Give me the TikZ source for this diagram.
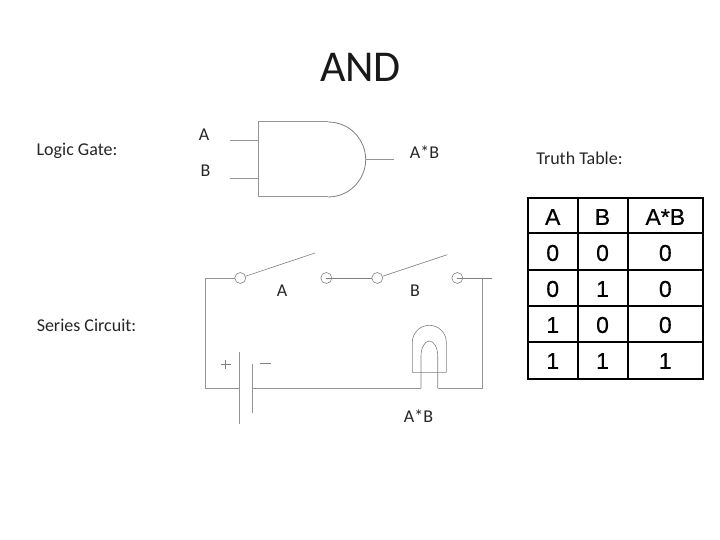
\documentclass[tikz,border=0pt]{standalone}
\usepackage{fontspec}
\setmainfont{Carlito}
\newfontfamily\tablefont[FakeBold=0.5]{Liberation Sans}
\tikzset{
  wire/.style={draw=black!42,line width=1pt},
  thinwire/.style={draw=black!50,line width=0.6pt},
  contact/.style={circle,draw=black!50,line width=0.6pt,minimum size=11pt,inner sep=0pt},
  lbl/.style={text=black!85,font=\fontsize{18}{20}\selectfont,inner sep=0pt,anchor=center},
  cell/.style={text=black,font=\tablefont\fontsize{23}{26}\selectfont,inner sep=0pt,anchor=center},
  grid line/.style={draw=black,line width=2pt},
}
\begin{document}
\begin{tikzpicture}[x=1pt,y=-1pt]
\useasboundingbox[fill=white] (0,0) rectangle (720,540);
\node[text=black!90,font=\fontsize{44}{50}\selectfont,inner sep=0pt] (title) at (360.5,67) {AND};
\node[lbl] (lgate) at (77,151) {Logic Gate:};
\node[lbl] (ina) at (204,134.5) {A};
\node[lbl] (inb) at (205.5,171) {B};
\node[lbl] (outab) at (424.5,152.5) {A*B};
\node[lbl] (ttable) at (579.5,158) {Truth Table:};
\node[lbl] (lseries) at (86.5,325) {Series Circuit:};
\node[lbl] (swa) at (282,291) {A};
\node[lbl] (swb) at (415,291) {B};
\node[lbl] (lamp) at (418.5,416) {A*B};
% AND gate
\coordinate (g1) at (258.7,140.3);
\coordinate (g2) at (258.7,178.7);
\coordinate (g3) at (365.7,159.5);
\coordinate (i1) at (230,140.3);
\coordinate (i2) at (230,178.7);
\coordinate (o1) at (394,159.5);
\draw[wire] (i1) -- (g1);
\draw[wire] (i2) -- (g2);
\draw[wire] (g3) -- (o1);
\draw[wire] (328,197) -- (258.7,197) -- (258.7,122) -- (328,122);
\draw[thinwire,line width=0.8pt] (328,122) .. controls (350,122) and (365.7,140) .. (g3) .. controls (365.7,179) and (350,197) .. (328,197);
% circuit contacts
\node[contact] (c1) at (240.3,278) {};
\node[contact] (c2) at (326.3,278) {};
\node[contact] (c3) at (377.3,278) {};
\node[contact] (c4) at (457.3,278) {};
\coordinate (arm1) at (315,253);
\coordinate (arm2) at (447.3,254.7);
\coordinate (tl) at (205,278);
\coordinate (bl) at (205,388);
\coordinate (tr) at (491.7,278);
\coordinate (tv) at (482.7,278);
\coordinate (br) at (482.7,388);
\draw[thinwire] (c1) -- (arm1);
\draw[thinwire] (c3) -- (arm2);
\draw[wire] (c1.west) -- (tl) -- (bl) -- (239,388);
\draw[thinwire] (c2.center) -- (c3);
\draw[thinwire] (c4.center) -- (tr);
\draw[wire] (tv) -- (br) -- (437.7,388);
% battery
\draw[wire] (239,351.7) -- (239,424);
\draw[wire] (252,364) -- (252,412.7);
\draw[wire] (252,388) -- (421,388);
\draw[thinwire] (221,364.3) -- (230.5,364.3) (225.7,360) -- (225.7,369);
\draw[thinwire] (260,363.7) -- (271,363.7);
% bulb
\draw[thinwire] (421,388) -- (421,356) arc[start angle=180,end angle=360,x radius=8.35,y radius=15] -- (437.7,388);
\draw[thinwire] (412.3,372.3) -- (412.3,342.3) arc[start angle=180,end angle=360,x radius=17,y radius=17] -- (446.3,372.3) -- cycle;
% truth table
\draw[grid line] (527.7,198.3) rectangle (702.7,378.7);
\foreach \xx in {577.7,628} \draw[grid line] (\xx,198.3) -- (\xx,378.7);
\foreach \yy in {233.3,270,306.3,342.3} \draw[grid line] (527.7,\yy) -- (702.7,\yy);
\node[cell] (t11) at (552.7,217) {A};
\node[cell] (t12) at (602.5,217) {B};
\node[cell] (t13) at (665.3,217) {A*B};
\node[cell] (t21) at (552.7,253) {0};
\node[cell] (t22) at (602.5,253) {0};
\node[cell] (t23) at (665.3,253) {0};
\node[cell] (t31) at (552.7,289) {0};
\node[cell] (t32) at (602.5,289) {1};
\node[cell] (t33) at (665.3,289) {0};
\node[cell] (t41) at (552.7,325) {1};
\node[cell] (t42) at (602.5,325) {0};
\node[cell] (t43) at (665.3,325) {0};
\node[cell] (t51) at (552.7,361) {1};
\node[cell] (t52) at (602.5,361) {1};
\node[cell] (t53) at (665.3,361) {1};
\end{tikzpicture}
\end{document}
